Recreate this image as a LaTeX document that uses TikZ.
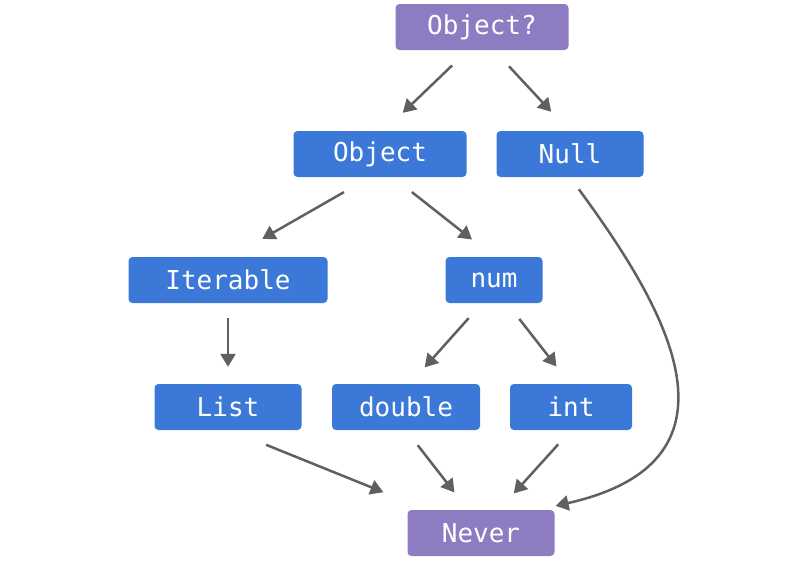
\documentclass[tikz,border=0pt]{standalone}
\usepackage{fontspec}
\setmonofont{DejaVu Sans Mono}
\usetikzlibrary{arrows.meta}
\definecolor{typeblue}{HTML}{3B78D8}
\definecolor{typepurple}{HTML}{8E7CC3}
\definecolor{arrowgray}{HTML}{606060}
\tikzstyle{every node}=[rounded corners=4pt,text=white,minimum height=46pt,inner sep=0pt,
  font=\fontsize{26}{28}\selectfont\ttfamily]
\tikzstyle{cls}=[fill=typeblue]
\tikzstyle{top}=[fill=typepurple]
\tikzstyle{arr}=[draw=arrowgray,line width=2.5pt,-{Triangle[length=13pt,width=15pt]}]

\begin{document}
\begin{tikzpicture}[x=1pt,y=-1pt]
  \useasboundingbox (0,0) rectangle (800,560);
  \node[top,minimum width=173pt] (objq) at (482,27) {Object?};
  \node[cls,minimum width=173pt] (obj) at (380,154) {Object};
  \node[cls,minimum width=147pt] (null) at (570,154) {Null};
  \node[cls,minimum width=199pt] (iter) at (228,280) {Iterable};
  \node[cls,minimum width=97pt] (num) at (494,280) {num};
  \node[cls,minimum width=147pt] (list) at (228,407) {List};
  \node[cls,minimum width=148pt] (double) at (406,407) {double};
  \node[cls,minimum width=122pt] (int) at (571,407) {int};
  \node[top,minimum width=147pt] (never) at (481,533) {Never};

  \draw[arr,shorten <=22pt,shorten >=26pt] ([xshift=-14]objq.south) -- ([xshift=4]obj.north);
  \draw[arr,shorten <=22pt,shorten >=26pt] ([xshift=12]objq.south) -- ([xshift=-1]null.north);
  \draw[arr,shorten <=30pt,shorten >=36pt] ([xshift=-10]obj.south) -- ([xshift=3]iter.north);
  \draw[arr,shorten <=24pt,shorten >=28pt] ([xshift=13]obj.south) -- (num.north);
  \draw[arr,shorten <=15pt,shorten >=17pt] (iter.south) -- (list.north);
  \draw[arr,shorten <=20pt,shorten >=22pt] ([xshift=-12]num.south) -- ([xshift=4]double.north);
  \draw[arr,shorten <=20pt,shorten >=22pt] ([xshift=13]num.south) -- ([xshift=-1]int.north);
  \draw[arr,shorten <=39pt,shorten >=47pt] ([xshift=2]list.south) -- ([xshift=-54]never.north);
  \draw[arr,shorten <=19pt,shorten >=22pt] (double.south) -- ([xshift=-13]never.north);
  \draw[arr,shorten <=19pt,shorten >=22pt] (int.south) -- ([xshift=18]never.north);
  \draw[arr,shorten <=15pt,shorten >=18pt] (null.south) .. controls (660,300) and (760,460) .. ([xshift=57]never.north);
\end{tikzpicture}
\end{document}
